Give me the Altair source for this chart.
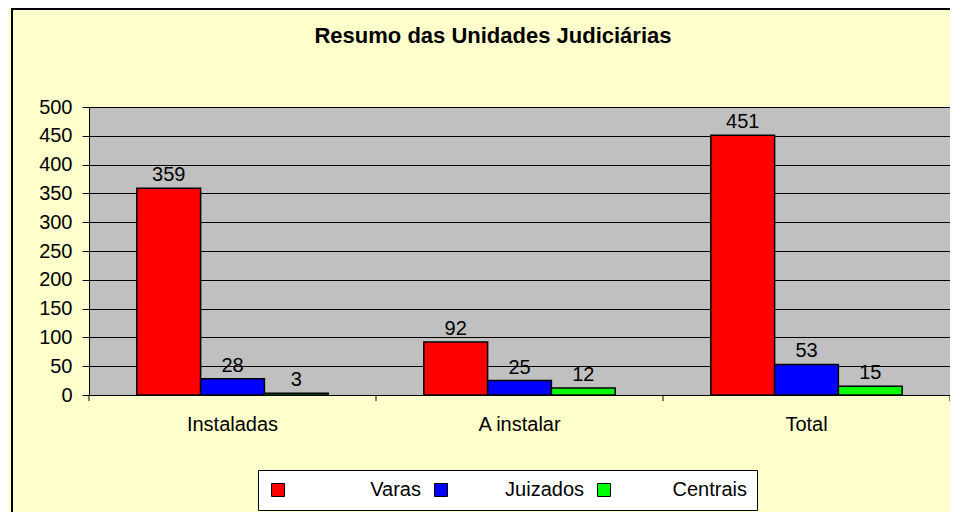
import altair as alt
import pandas as pd

categories = ["Instaladas", "A instalar", "Total"]
series = ["Varas", "Juizados", "Centrais"]
varas = [359, 92, 451]
juizados = [28, 25, 53]
centrais = [3, 12, 15]
colors = ["#FF0000", "#0000FF", "#00FF00"]
y_ticks = [0, 50, 100, 150, 200, 250, 300, 350, 400, 450, 500]
title_text = "Resumo das Unidades Judiciárias"

rows = []
for i, c in enumerate(categories):
    for s, vals in zip(series, [varas, juizados, centrais]):
        rows.append({"categoria": c, "serie": s, "valor": vals[i]})
df = pd.DataFrame(rows)
cat_df = pd.DataFrame({"categoria": categories})
last_df = pd.DataFrame({"categoria": categories[-1:]})
one = pd.DataFrame({"k": [0]})

W, H = 861, 288
PAD_L, PAD_T, PAD_R, PAD_B = 81, 99, 0, 117
FONT = "Liberation Sans"

x_scale = alt.Scale(paddingInner=0, paddingOuter=0)
x_axis = alt.Axis(labelFontSize=20, labelFont=FONT, labelColor="black", labelAngle=0,
                  ticks=False, labelPadding=19, domainColor="black", domainWidth=1, grid=False)
y_scale = alt.Scale(domain=[0, 500])
y_axis = alt.Axis(values=y_ticks, labelFontSize=20, labelFont=FONT, labelColor="black",
                  tickSize=7, tickColor="black", domainColor="black", gridColor="black",
                  gridWidth=1, gridOpacity=1, labelPadding=10)


def xenc(**kw):
    return alt.X("categoria:N", sort=categories, title=None, scale=x_scale, axis=x_axis, **kw)


def yenc():
    return alt.Y("valor:Q", scale=y_scale, title=None, axis=y_axis)


def xoff():
    return alt.XOffset("serie:N", sort=series,
                       scale=alt.Scale(paddingInner=0, paddingOuter=0.75))


bars = alt.Chart(df).mark_bar(stroke="black", strokeWidth=1.5).encode(
    x=xenc(),
    xOffset=xoff(),
    y=yenc(),
    color=alt.Color(
        "serie:N", sort=series, scale=alt.Scale(domain=series, range=colors),
        legend=alt.Legend(
            title=None, orient="none", legendX=169, legendY=363, direction="horizontal",
            fillColor="white", strokeColor="black", padding=10,
            symbolType="square", symbolSize=169, symbolStrokeColor="black",
            symbolStrokeWidth=1, symbolOpacity=1,
            labelFontSize=20, labelFont=FONT, labelColor="black",
            labelAlign="right", labelOffset=133, columnPadding=10, labelLimit=300,
        ),
    ),
)

labels = alt.Chart(df).mark_text(baseline="alphabetic", dy=-7, fontSize=20, font=FONT, color="black").encode(
    x=xenc(),
    xOffset=xoff(),
    y=yenc(),
    text="valor:Q",
)

ticks_start = alt.Chart(cat_df).mark_rule(color="black", strokeWidth=1).encode(
    x=xenc(bandPosition=0),
    y=alt.value(H), y2=alt.value(H + 6),
)
ticks_end = alt.Chart(last_df).mark_rule(color="black", strokeWidth=1).encode(
    x=xenc(bandPosition=1),
    y=alt.value(H), y2=alt.value(H + 6),
)

frame_left = alt.Chart(one).mark_rule(color="black", strokeWidth=2).encode(
    x=alt.value(-77), y=alt.value(-PAD_T), y2=alt.value(H + PAD_B),
)
frame_top = alt.Chart(one).mark_rule(color="black", strokeWidth=2).encode(
    x=alt.value(-77), x2=alt.value(W + PAD_R), y=alt.value(-PAD_T + 1),
)
title = alt.Chart(one).mark_text(
    text=title_text, fontSize=22, fontWeight="bold", font=FONT, color="black",
    align="center", baseline="alphabetic",
).encode(x=alt.value(404), y=alt.value(-64))

chart = alt.layer(frame_left, frame_top, title, bars, labels, ticks_start, ticks_end).properties(
    width=W, height=H,
    autosize=alt.AutoSizeParams(type="none"),
    padding={"left": PAD_L, "top": PAD_T, "right": PAD_R, "bottom": PAD_B},
    background="#FFFFCC",
).configure_view(fill="#C0C0C0", stroke="#808080", strokeWidth=1)

chart.save("out.html", embed_options={"renderer": "svg", "actions": False})
